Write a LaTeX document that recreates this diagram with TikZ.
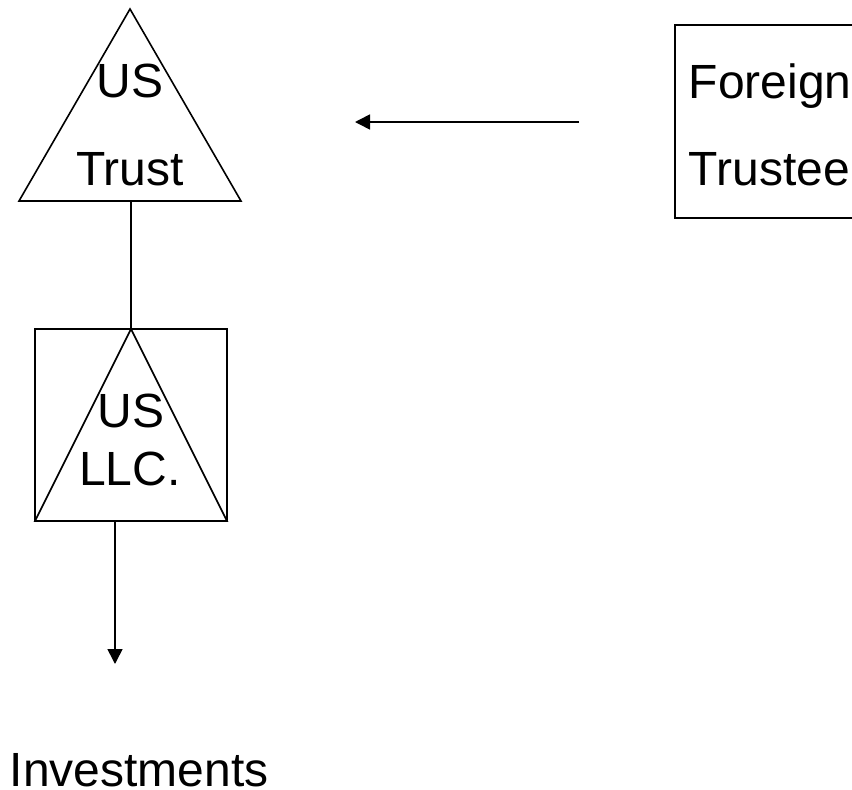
\documentclass[tikz,border=0pt]{standalone}
\usepackage{fontspec}
\setmainfont{Liberation Sans}
\usetikzlibrary{%
		arrows.meta%
	}

\begin{document}
\begin{tikzpicture}[x=1pt,y=-1pt,line width=1.6pt,
		label/.style={inner sep=0pt,font=\fontsize{48}{56}\selectfont},
		tip/.style={-{Triangle[length=15pt,width=15pt]}}]
			\useasboundingbox (0,0) rectangle (852,790);
			\clip (0,0) rectangle (852,790);
			% US Trust
			\coordinate (trusttop) at (130,9);
			\coordinate (trustleft) at (19,201);
			\coordinate (trustright) at (241,201);
			\coordinate (trustfoot) at (131,201);
			\draw (trusttop) -- (trustright) -- (trustleft) -- cycle;
			\node[label,anchor=base] (trustus) at (130,97) {US};
			\node[label,anchor=base] (trustname) at (130,185) {Trust};
			
			% US LLC.
			\coordinate (llctop) at (131,329);
			\coordinate (llcleft) at (35,521);
			\coordinate (llcright) at (227,521);
			\coordinate (llcfoot) at (115,521);
			\draw (35,329) rectangle (227,521);
			\draw (llctop) -- (llcright) -- (llcleft) -- cycle;
			\node[label,anchor=base] (llcus) at (131,427) {US};
			\node[label,anchor=base] (llcname) at (130,485) {LLC.};
			
			\draw (trustfoot) -- (llctop);
			
			% Foreign Trustee
			\draw (675,25) rectangle (880,218);
			\node[label,anchor=base west] (foreign) at (688,98) {Foreign};
			\node[label,anchor=base west] (trustee) at (688,185) {Trustee};
			\coordinate (arrowstart) at (579,122);
			\coordinate (arrowend) at (355,122);
			\draw[tip] (arrowstart) -- (arrowend);
			
			% Investments
			\coordinate (investtip) at (115,664);
			\draw[tip] (llcfoot) -- (investtip);
			\node[label,anchor=base west] (invest) at (9,786) {Investments};
		\end{tikzpicture}
\end{document}
